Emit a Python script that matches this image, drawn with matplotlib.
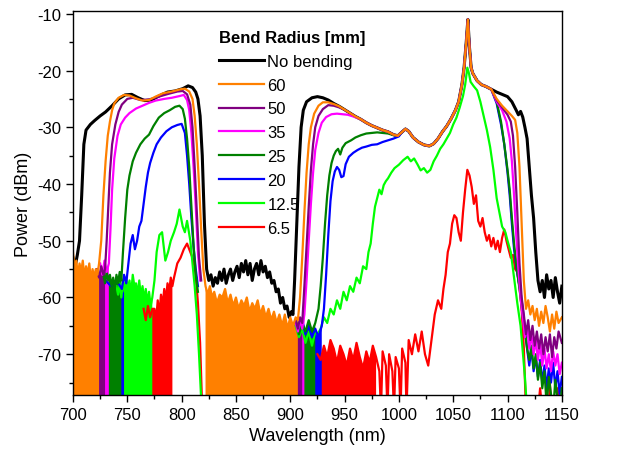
import numpy as np
import matplotlib
matplotlib.use("Agg")
import matplotlib.pyplot as plt
from matplotlib.ticker import MultipleLocator

nan = np.nan

# spectra: (wavelength nm, power dBm); nan breaks a trace
# curve that most spectra follow between ~950 and ~1085 nm
shared_wl = [950, 955, 960, 965, 970, 975, 980, 985, 990, 995, 999, 1003, 1006, 1009,
             1013, 1018, 1023, 1028, 1032, 1036, 1040, 1044, 1048, 1052, 1055, 1058,
             1060, 1062, 1063.5, 1065, 1066.5, 1068, 1072, 1076, 1080, 1085]
shared_db = [-26.9, -27.5, -28.1, -28.6, -29.2, -29.7, -30.1, -30.5, -30.8, -31.3, -31.5,
             -30.8, -30.3, -30.7, -31.8, -32.6, -33.1, -33.3, -32.9, -32.0, -30.8, -29.8,
             -28.5, -27.0, -25.5, -22.5, -19.5, -15.0, -11.0, -16.0, -19.5, -20.5, -21.8,
             -22.5, -22.8, -23.3]

black_pts = [(700, -53), (702, -54.5), (704, -52.5), (706, -50), (708, -42), (710, -33), (712, -30.5),
             (716, -29.5), (720, -28.8), (725, -28), (730, -27.3), (736, -26.2), (742, -25), (748, -24.3),
             (754, -24.2), (760, -24.8), (766, -25.3), (772, -25.2), (779, -24.5), (787, -23.8), (794, -23.6),
             (801, -23.2), (806, -22.7), (810, -23.0), (813, -23.8), (815, -25), (817, -28), (819, -35),
             (821, -47), (823, -55), (825, -57), (827, -56), (829, -58), (831, -56.5), (833, -57.5),
             (835, -55.5), (837, -57), (839, -55), (841, -57.5), (843, -56), (845, -55), (847, -57),
             (849, -55.5), (851, -54.5), (853, -56.5), (855, -54), (857, -55.5), (859, -53.5), (861, -56),
             (863, -54), (865, -57), (867, -55), (869, -54), (871, -56), (873, -53.5), (875, -55.5),
             (877, -54.5), (879, -56.5), (881, -55.5), (883, -57.5), (885, -57), (887, -59), (889, -58.5),
             (891, -61), (893, -60), (895, -62), (897, -61.5), (899, -63.5),
             (901, -62.5), (902.5, -63), (904, -57), (906, -47), (908, -37), (910, -30),
             (912, -27), (915, -25.5), (920, -24.8), (925, -24.6), (930, -24.8), (935, -25.2),
             (940, -25.8), (945, -26.3)]
black_tail = [(1090, -23.8), (1095, -24.2), (1100, -24.6), (1104, -25.5), (1108, -27), (1110, -27.8),
              (1112, -27.2), (1114, -28.2), (1116, -30), (1118, -32), (1120, -37), (1122, -42),
              (1124, -46), (1126, -52), (1128, -57), (1130, -59), (1132, -57), (1134, -60), (1136, -56),
              (1138, -58.5), (1140, -57), (1142, -60), (1144, -56.5), (1146, -59), (1148, -61), (1150, -58)]

orange_pts = [(700, -52), (701.5, -55), (703, -53.5), (704.5, -56), (706, -54), (707.5, -55.5), (709, -53.5),
              (710.5, -56.5), (712, -54.5), (713.5, -56), (715, -54), (716.5, -57), (718, -55), (719.5, -56.5),
              (721, -55), (722.5, -56), (724, -54), (726, -50), (728, -42), (730, -36), (732, -31.5),
              (734, -29), (736, -27), (738, -25.8), (742, -24.8), (747, -24.3), (752, -24.4), (758, -24.9),
              (764, -25.3), (770, -25.2), (776, -24.6), (783, -24), (791, -23.7), (799, -23.3), (803, -23.2),
              (807, -23.7), (810, -25), (812, -28), (814, -33), (816, -40), (818, -48), (820, -55),
              (822, -58), (824, -59.5), (826, -58), (828, -60), (830, -59), (832.5, -61), (835, -59.5),
              (837.5, -60), (840, -58.5), (842.5, -61), (845, -59.5), (847.5, -61.5),
              (850, -60), (852.5, -62), (855, -60.5), (857.5, -61.5), (860, -60), (862.5, -62.5), (865, -61),
              (867.5, -62), (870, -60.5), (872.5, -63), (875, -61.5), (877.5, -63.5), (880, -62), (882.5, -64),
              (885, -62.5), (887.5, -64.5), (890, -63), (892.5, -65), (895, -63), (897.5, -65.5), (900, -63.5),
              (902.5, -65), (905, -63.5), (907, -64), (909, -60), (911, -53), (913, -45), (915, -38),
              (917, -33), (919, -30), (922, -27.6), (926, -26.2), (930, -25.6), (935, -25.6), (940, -25.9),
              (945, -26.3)]
orange_tail = [(1090, -25), (1095, -26.2), (1100, -27.2), (1104, -28), (1107, -28.7), (1109, -31), (1111, -37),
               (1113, -47), (1115, -57), (1117, -62), (1119, -60.5), (1121, -63), (1123, -61.5), (1125, -64),
               (1127, -62), (1129, -65), (1131, -62.5), (1133, -64.5), (1135, -61.5), (1137, -63.5), (1139, -66),
               (1141, -63), (1143, -65.5), (1145, -62.5), (1147, -64.5), (1150, -63.5)]
orange_floor = [(700, 724), (822, 907)]

purple_pts = [(722, -55), (724, -56.5), (726, -54.5), (728, -56), (729.5, -55), (731, -50), (732.5, -44),
              (734, -38), (736, -33), (739, -29.5), (742, -27.3), (745, -26), (750, -25), (755, -24.8),
              (762, -25.2), (770, -25.1), (779, -24.6), (788, -24.1), (796, -23.7), (801, -23.6), (805, -24.2),
              (808, -26), (810, -30), (812, -37), (814, -45), (816, -53), (818, -57), (860, nan),
              (905, -64), (907, -65.5), (909, -63.5), (911, -64.5), (913, -58), (915, -51), (917, -44),
              (919, -37.5), (921, -33), (923, -30), (926, -28), (930, -26.8), (935, -26.1), (940, -26.2),
              (945, -26.5)]
purple_tail = [(1090, -25.2), (1095, -26.5), (1100, -27.8), (1103, -29), (1105, -31.5), (1107, -37), (1109, -45),
               (1111, -54), (1113, -60), (1115, -63), (1117, -66.5), (1119, -64), (1121, -67.5), (1123, -65),
               (1125, -68.5), (1127, -66), (1129, -69), (1131, -66.5), (1133, -70), (1135, -67), (1137, -69.5),
               (1139, -66.5), (1141, -70.5), (1143, -67), (1145, -69), (1147, -66), (1150, -68)]
purple_floor = [(722, 730), (905, 911)]

magenta_pts = [(725, -54), (727, -56), (729, -53.5), (731, -55.5), (733, -54), (734.5, -48), (736, -41),
               (738, -35.5), (741, -31.5), (744, -29.5), (748, -28.3), (752, -27.5), (758, -26.7), (764, -26.2),
               (770, -25.7), (776, -25.3), (784, -25), (791, -24.8), (798, -24.5), (802, -24.3), (805, -25.2),
               (807, -27), (809, -31), (811, -37), (813, -44), (815, -52), (817, -57), (860, nan),
               (905, -64.5), (907, -66), (909, -64), (911, -65.5), (913, -63), (915, -57), (917, -50),
               (919, -43.5), (921, -38), (923, -34), (926, -31), (929, -29.2), (933, -28.2), (938, -27.7),
               (943, -27.6), (948, -27.7), (953, -27.8), (958, -28.1), (962, -28.4)]
magenta_tail = [(1090, -25.5), (1095, -27), (1099, -29), (1102, -32), (1104, -36), (1106, -42), (1108, -49),
                (1110, -55), (1112, -60), (1114, -63.5), (1116, -67), (1118, -65), (1120, -69), (1122, -66.5),
                (1124, -70), (1126, -67.5), (1128, -71), (1130, -68), (1132, -72), (1134, -69), (1136, -72.5),
                (1138, -70), (1140, -73), (1142, -69.5), (1144, -72), (1146, -70), (1148, -73.5), (1150, -71.5)]
magenta_floor = [(725, 733), (905, 913)]

dkgreen_pts = [(728, -56), (729.5, -57.5), (731, -55.5), (732.5, -57), (734, -56), (735.5, -58), (737, -56.5),
               (738.5, -58.5), (740, -56), (741.5, -57.5), (743, -55.5), (744.5, -57), (746, -52), (748, -46),
               (750, -41), (752, -38.5), (755, -36), (758, -34.5), (762, -33), (766, -32), (770, -31.3),
               (774, -29.8), (779, -28.3), (784, -27.5), (789, -27), (794, -26.4), (798, -26.2), (801, -26.8),
               (803, -28.5), (805, -32), (807, -37), (809, -44), (811, -51), (813, -56), (815, -59), (860, nan),
               (905, -64), (908, -66.5), (911, -64.5), (914, -66), (917, -64), (920, -66), (923, -64.5),
               (926, -62), (928, -58), (930, -53), (932, -47), (934, -42), (936, -38.5), (938, -36.3),
               (940, -35), (942, -34.2), (944, -33.8), (946, -34.8), (948, -33.6), (951, -32.8), (956, -32.3),
               (960, -31.8), (965, -31.4), (970, -31.1), (975, -31), (980, -30.9), (985, -31), (990, -31.1),
               (995, -31.4)]
dkgreen_tail = [(1090, -25.5), (1094, -29), (1097, -33), (1100, -37.5), (1102, -41), (1104, -46), (1106, -50.5),
                (1108, -54), (1110, -57), (1112, -60), (1114, -63.5), (1116, -66), (1118, -69), (1120, -71),
                (1122, -68.5), (1124, -72.5), (1126, -70), (1128, -74.5), (1130, -71.5), (1132, -76), (1134, -73),
                (1136, -79), (1138, -74), (1140, -77), (1142, -80), (1144, -74.5), (1146, -78), (1148, -80),
                (1150, -76)]
dkgreen_floor = [(728, 745), (905, 924)]

blue_pts = [(730, -57), (735, -58), (740, -57), (745, -58.5), (747, -56), (749, -57.5), (751, -54), (753, -50.5),
            (755, -49), (757, -51.5), (759, -50), (761, -47.5), (763, -46.5), (765, -43.5), (767, -40.5),
            (769, -38), (771, -36.3), (774, -34.5), (777, -33), (781, -31.8), (786, -30.7), (791, -30),
            (796, -29.6), (800, -29.4), (803, -31), (805, -35), (807, -40), (809, -46), (811, -51), (813, -55),
            (815, -58), (860, nan), (905, -64.5), (908, -66), (911, -64), (914, -66.5), (917, -65), (920, -67),
            (923, -65.5), (926, -67), (929, -65), (931, -62), (933, -56), (935, -49), (937, -43), (939, -39.5),
            (941, -37.8), (943, -37), (945, -37.5), (947, -38.8), (949, -38.6), (951, -36.5), (954, -35.2),
            (958, -34.5), (962, -34), (966, -33.6), (970, -33.4), (975, -33.1), (980, -33), (985, -32.6),
            (990, -32.3), (995, -32), (1000, -31.6)]
blue_tail = [(1090, -25.8), (1094, -29.5), (1097, -33), (1100, -38), (1102, -42), (1104, -47), (1106, -51.5),
             (1108, -54.5), (1110, -57), (1112, -59), (1114, -62), (1116, -65.5), (1118, -69), (1120, -72),
             (1122, -69), (1124, -73), (1126, -70.5), (1128, -74), (1130, -71), (1132, -75), (1134, -72),
             (1136, -76), (1138, -72.5), (1140, -75), (1142, -71.5), (1144, -76), (1146, -73), (1148, -77),
             (1150, -74)]
blue_floor = [(730, 747), (905, 929)]

green_pts = [(740, -58), (741.5, -59.5), (743, -57.5), (744.5, -60), (746, -57), (747.5, -59), (749, -56.5),
             (750.5, -58.5), (752, -57), (753.5, -59.5), (755, -56), (756.5, -58), (758, -57.5), (759.5, -59.5),
             (761, -57), (762.5, -60), (764, -58), (765.5, -60.5), (767, -58.5), (768.5, -61), (770, -59),
             (771.5, -61.5), (773, -60), (775, -57), (777, -52), (779.5, -49), (782, -48.5), (785, -53.5),
             (787.5, -52), (790, -50), (793, -48.5), (795.5, -47), (798, -44.5), (801, -47.5), (803, -48.5),
             (805, -46.5), (808, -50), (810, -54), (812, -58), (814, -63), (816, -70), (818, -78), (860, nan),
             (905, -65), (908, -67), (911, -65.5), (914, -68), (917, -66), (920, -68.5), (923, -66),
             (925, -66.5), (928, -65.5), (931, -63.5), (934, -64.5), (937, -62), (940, -63), (943, -60.5),
             (946, -62), (949, -59), (952, -60.5), (955, -58), (958, -59), (961, -56.5), (964, -57.5),
             (967, -54.5), (970, -55), (972, -52), (974, -50.5), (976, -47), (978, -44), (980, -42.5),
             (982, -41), (984, -41.8), (986, -40.2), (988, -39.5), (990, -39), (993, -38), (996, -37.2),
             (1000, -36.6), (1004, -35.8), (1008, -35.2), (1011, -36), (1014, -35.5), (1017, -36.5),
             (1020, -37.6), (1023, -37.2), (1026, -38), (1029, -37.5), (1032, -36), (1035, -35), (1038, -33.8),
             (1041, -33), (1044, -32), (1047, -31), (1050, -29.5), (1053, -28.3), (1056, -26.5), (1059, -24.5),
             (1061, -22.5), (1063, -19.5), (1064.5, -20.5), (1066, -22), (1069, -22.8), (1072, -23.5),
             (1075, -25.5), (1078, -28), (1081, -30.5), (1084, -33.5), (1087, -37.5), (1090, -42.5),
             (1092, -44.5), (1095, -47.5), (1098, -48.5), (1100, -50), (1103, -52), (1106, -56.5), (1109, -61),
             (1112, -65), (1114, -69.5), (1116, -74), (1118, -80), (1125, -80)]
green_floor = [(740, 773), (905, 923)]

red_pts = [(765, -62), (767, -64), (769, -61.5), (771, -63.5), (773, -62), (775, -62), (776.5, -64), (778, -60.5),
           (779.5, -63), (781, -59.5), (782.5, -61.5), (784, -58.5), (785.5, -60.5), (787, -57.5), (788.5, -59),
           (790, -56.5), (791.5, -58), (793, -56.5), (796, -54), (799, -53), (802, -51.5), (805, -50.5),
           (808, -52), (811, -53.5), (813, -56), (815, -61), (817, -68), (819, -80), (860, nan),
           (925, -70), (928, -71), (931, -68.5), (934, -70.5), (937, -67.5), (940, -69), (943, -71.5),
           (946, -68.5), (949, -70), (952, -72), (955, -69), (958, -71), (961, -68), (964, -70.5), (967, -72.5),
           (970, -69.5), (973, -71.5), (976, -68.5), (979, -70.5), (982, -73), (983.5, -80), (985, -69.5),
           (988, -72), (989.5, -80), (991, -70), (994, -73), (995.5, -80), (997, -70.5), (1000, -72.5),
           (1001.5, -80), (1003, -69), (1006, -71.5), (1007, -80), (1009, -67.5), (1012, -70), (1015, -66.5),
           (1018, -69.5), (1021, -66), (1024, -70), (1027, -72), (1030, -67.5), (1033, -63),
           (1036, -60.5), (1039, -62), (1041, -58.5), (1043, -56), (1045, -52), (1047, -50.5), (1049, -47),
           (1051, -45.5), (1053, -46), (1055, -48.5), (1057, -50), (1059, -45), (1061, -41), (1063, -37.5),
           (1065, -38.5), (1067, -40.5), (1069, -43.5), (1071, -42), (1073, -46.5), (1075, -47.5), (1077, -46),
           (1079, -48.5), (1081, -50), (1083, -49), (1085, -51), (1087, -49.5), (1089, -51.5), (1091, -50),
           (1093, -52), (1095, -49.5), (1097, -48), (1099, -50), (1101, -51.5), (1103, -53), (1105, -52.5),
           (1107, -55), (1109, -55.5), (1111, -58), (1113, -62), (1115, -69), (1117, -80), (1128, -80),
           (1130, -76), (1132, -80), (1138, -80), (1139, -75), (1140, -80), (1145, -80), (1146, -76),
           (1148, -80), (1150, -80)]
red_floor = [(765, 791.5), (925, 981)]

labels = ["No bending", "60", "50", "35", "25", "20", "12.5", "6.5"]
colors = ["black", "#ff8000", "#800080", "#ff00ff", "#008000", "#0000ff", "#00ff00", "#ff0000"]


def build(pts, merge=None, tail=None):
    wl = [p[0] for p in pts]
    db = [p[1] for p in pts]
    if merge is not None:
        for w, d in zip(shared_wl, shared_db):
            if w >= merge:
                wl.append(w)
                db.append(d)
    if tail is not None:
        wl += [p[0] for p in tail]
        db += [p[1] for p in tail]
    return np.array(wl, float), np.array(db, float)


series = {
    "No bending": (build(black_pts, 950, black_tail), []),
    "60": (build(orange_pts, 950, orange_tail), orange_floor),
    "50": (build(purple_pts, 950, purple_tail), purple_floor),
    "35": (build(magenta_pts, 965, magenta_tail), magenta_floor),
    "25": (build(dkgreen_pts, 999, dkgreen_tail), dkgreen_floor),
    "20": (build(blue_pts, 1003, blue_tail), blue_floor),
    "12.5": (build(green_pts), green_floor),
    "6.5": (build(red_pts), red_floor),
}

plt.rcParams['font.family'] = ['Liberation Sans', 'DejaVu Sans']
plt.rcParams['axes.unicode_minus'] = False
fig = plt.figure(figsize=(6.32, 4.6), dpi=100)
ax = fig.add_axes([0.1155, 0.139, 0.7735, 0.835])

# drawing order: black at the bottom, then red ... orange on top
order = ["No bending", "6.5", "12.5", "20", "25", "35", "50", "60"]
handles = {}
for name in order:
    (wl, db), floors = series[name]
    c = colors[labels.index(name)]
    if floors:
        mask = np.zeros(len(wl), bool)
        for lo, hi in floors:
            mask |= (wl >= lo) & (wl <= hi)
        ax.fill_between(wl, db, -100, where=mask, color=c, lw=0)
    lw = 2.2 if name == "No bending" else 1.6
    handles[name], = ax.plot(wl, db, color=c, lw=lw, label=name)

ax.set_xlim(700, 1150)
ax.set_ylim(-77.2, -9.5)
ax.xaxis.set_major_locator(MultipleLocator(50))
ax.xaxis.set_minor_locator(MultipleLocator(25))
ax.yaxis.set_major_locator(MultipleLocator(10))
ax.yaxis.set_minor_locator(MultipleLocator(5))
ax.tick_params(which='major', direction='out', length=5, width=1, labelsize=12)
ax.tick_params(which='minor', direction='out', length=3, width=1)
for s in ax.spines.values():
    s.set_linewidth(1)
ax.set_xlabel("Wavelength (nm)", fontsize=13)
ax.set_ylabel("Power (dBm)", fontsize=13)

leg = ax.legend([handles[n] for n in labels], labels, title="Bend Radius [mm]",
                loc='upper left', bbox_to_anchor=(0.285, 0.968), frameon=False,
                fontsize=12, handlelength=2.7, handletextpad=0.2, labelspacing=0.53,
                alignment='left', borderaxespad=0)
leg.get_title().set_fontweight('bold')
leg.get_title().set_fontsize(12)

fig.savefig("out.png", dpi=100)
